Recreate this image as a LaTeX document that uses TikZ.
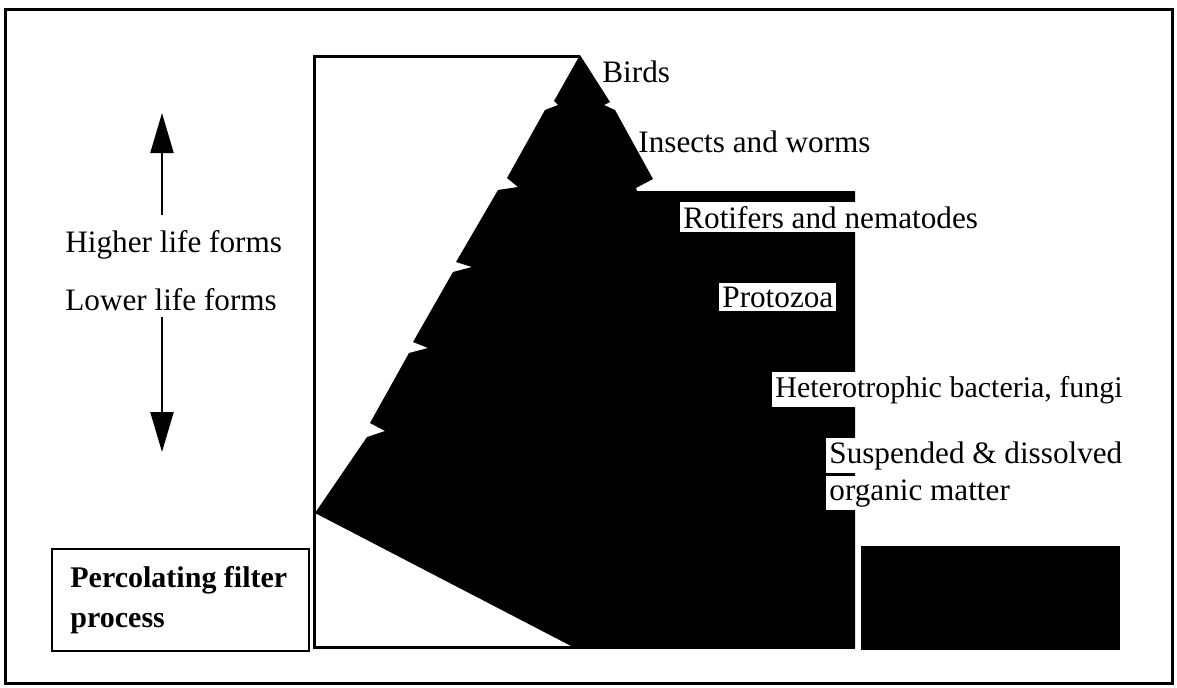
\documentclass[tikz,border=0pt]{standalone}
\usepackage{fontspec}
\setmainfont{Liberation Serif}
\usetikzlibrary{arrows.meta}
\begin{document}
\begin{tikzpicture}[x=0.5pt,y=-0.5pt,
  lbl/.style={font=\fontsize{15.6}{18}\selectfont, anchor=base west, inner xsep=1.5pt, inner ysep=1.8pt},
  wlbl/.style={lbl, fill=white},
  blbl/.style={lbl, font=\bfseries\fontsize{15}{18}\selectfont},
  frame/.style={line width=1.5pt},
  bigarrow/.style={line width=1.1pt, -{Triangle[length=20pt,width=11.5pt]}}]
\useasboundingbox (0,0) rectangle (1177,687);
\fill[white] (0,0) rectangle (1177,687);
% outer frame
\draw[frame] (5,9) rectangle (1172,683);
% panel
\draw[line width=1.5pt] (855,647) -- (314,647) -- (314,56) -- (580,56);
% pyramid silhouette
\fill[black] (580,55) -- (554,101) -- (558,105) -- (545,110)
  -- (507,178) -- (518,187) -- (498,190)
  -- (456,262) -- (472,267) -- (453,272)
  -- (413,342) -- (428,348) -- (409,353)
  -- (370,423) -- (385,431) -- (367,437)
  -- (315,513) -- (573,647) -- (855,647) -- (855,191)
  -- (637,191) -- (636,188) -- (653,179)
  -- (615,110) -- (604,105) -- (610,102) -- cycle;
% separate block
\fill[black] (861,546) rectangle (1120,650);
% labels on the pyramid
\node[lbl] (birds) at (599,82) {Birds};
\node[lbl] (insects) at (635,152) {Insects and worms};
\node[wlbl] (rotifers) at (680,228) {Rotifers and nematodes};
\node[wlbl] (protozoa) at (719,307) {Protozoa};
\node[wlbl, font=\fontsize{15}{18}\selectfont] (hetero) at (772,397) {Heterotrophic bacteria, fungi};
\node[wlbl] (susp) at (826,463) {Suspended \& dissolved};
\node[wlbl] (organic) at (826,500) {organic matter};
% left side
\node[lbl] (higher) at (62,252) {Higher life forms};
\node[lbl] (lower) at (62,310) {Lower life forms};
\coordinate (hiA) at (162,215);
\coordinate (hiB) at (162,113);
\coordinate (loA) at (162,317);
\coordinate (loB) at (162,452);
\draw[bigarrow] (hiA) -- (hiB);
\draw[bigarrow] (loA) -- (loB);
% process box
\node[draw, line width=1pt, minimum width=128.5pt, minimum height=51pt, anchor=north west, inner sep=0pt] (percbox) at (51,548) {};
\node[blbl] (perc1) at (67,587) {Percolating filter};
\node[blbl] (perc2) at (67,627) {process};
\end{tikzpicture}
\end{document}
